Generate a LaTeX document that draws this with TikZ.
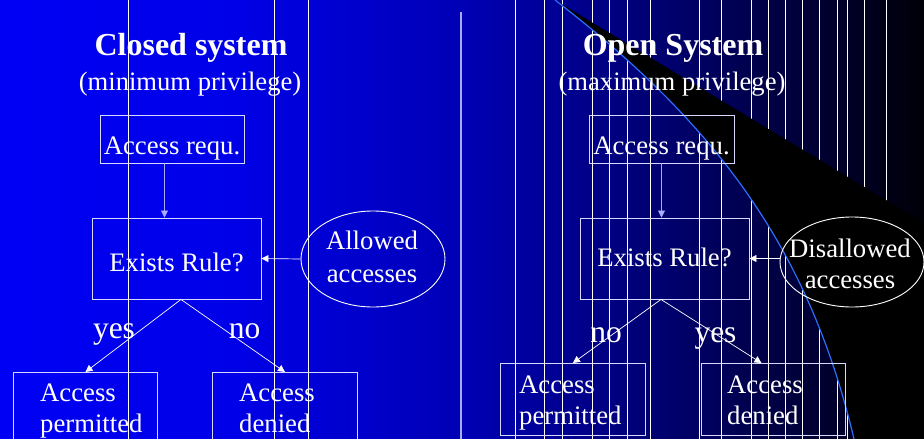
\documentclass[tikz,border=0pt]{standalone}
\usepackage{fontspec}
\setmainfont{Liberation Serif}
\usetikzlibrary{positioning}
\usetikzlibrary{shapes.geometric}
\usetikzlibrary{arrows.meta}
\definecolor{boxline}{RGB}{215,215,255}
\definecolor{curveblue}{RGB}{45,110,250}
\definecolor{divider}{RGB}{170,170,230}
\definecolor{reqarrow}{RGB}{170,170,255}
\pgfdeclarehorizontalshading{slidebg}{100bp}{rgb(0bp)=(0,0,0.96); rgb(25bp)=(0,0,0.96); rgb(37.5bp)=(0,0,0.91); rgb(50bp)=(0,0,0.71); rgb(63bp)=(0,0,0.38); rgb(75bp)=(0,0,0.03); rgb(100bp)=(0,0,0.03)}

\begin{document}
\begin{tikzpicture}[x=1pt,y=-1pt,
    title/.style={text=white,inner sep=0pt,anchor=base,font=\fontsize{32}{38}\selectfont\bfseries},
    subtitle/.style={text=white,inner sep=0pt,anchor=base,font=\fontsize{26.6}{31}\selectfont},
    body/.style={text=white,inner sep=0pt,font=\fontsize{26.7}{31}\selectfont},
    box/.style={body,draw=boxline,line width=0.9pt},
    cloud/.style={ellipse,draw=white,line width=0.9pt,inner sep=0pt,minimum width=144pt},
    answer/.style={text=white,inner sep=0pt,anchor=base,font=\fontsize{31.5}{36}\selectfont},
    arr/.style={draw=white,line width=0.7pt,-{Triangle[width=7pt,length=7pt]}},
    vline/.style={white,line width=1pt}]
  \useasboundingbox (0,0) rectangle (924,439);
  \clip (0,0) rectangle (924,439);

  % slide background
  \shade[shading=slidebg] (0,0) rectangle (924,439);
  \draw[divider,line width=2pt] (461,12) -- (461,439);
  \foreach \x in {128,274,308,515,544,562,592,609,627,650,699,721,751,768,785,802,819,837,847,864,886}
    \draw[vline] (\x,0) -- (\x,439);
  \fill[black] (555,0) -- (924,223) -- (924,439) -- (854,439)
    .. controls (808,245) and (713,122) .. (555,0) -- cycle;
  \draw[curveblue,line width=1.2pt] (555,0) .. controls (713,122) and (808,245) .. (854,439);

  % closed system
  \node[title] (closedT) at (191,55) {Closed system};
  \node[subtitle] (closedS) at (190,90) {(minimum privilege)};
  \node[box,minimum width=144pt,text height=39pt,text depth=9pt] (reqL) at (172,139) {Access requ.};
  \node[box,minimum width=169pt,text height=53pt,text depth=28pt] (ruleL) at (176.5,258.5) {Exists Rule?};
  \node[cloud,minimum height=96pt] (allowL) at (373,259) {};
  \node[body,align=center,anchor=base] (allowLt) at (372,282) {Allowed\\[2pt]accesses};
  \node[box,minimum width=144pt,minimum height=80pt,anchor=north west] (permL) at (13,372) {};
  \node[body,align=left,anchor=base west] (permLt) at (40,432) {Access\\permitted};
  \node[box,minimum width=145pt,minimum height=80pt,anchor=north west] (denyL) at (212,372) {};
  \node[body,align=left,anchor=base west] (denyLt) at (239,432) {Access\\denied};
  \node[answer] (yesL) at (114,338) {yes};
  \node[answer] (noL) at (244.5,338) {no};

  \coordinate (reqLout) at ([xshift=-7.5pt]reqL.south);
  \coordinate (ruleLout) at ([xshift=4.5pt]ruleL.south);
  \draw[arr,draw=reqarrow] (reqLout) -- (reqLout |- ruleL.north);
  \draw[arr] (allowL.west) -- (ruleL.east);
  \draw[arr] (ruleLout) -- (permL.north);
  \draw[arr] (ruleLout) -- (denyL.north);

  % open system
  \node[title] (openT) at (673,55) {Open System};
  \node[subtitle] (openS) at (672,90) {(maximum privilege)};
  \node[box,minimum width=145pt,text height=39pt,text depth=9pt] (reqR) at (661.5,139) {Access requ.};
  \node[box,minimum width=169pt,text height=48pt,text depth=33pt] (ruleR) at (664.5,258.5) {Exists Rule?};
  \node[cloud,minimum height=90pt] (disR) at (852,262) {};
  \node[body,align=center,anchor=base] (disRt) at (850,288) {Disallowed\\accesses};
  \node[box,minimum width=145pt,minimum height=72pt,anchor=north west] (permR) at (500,363) {};
  \node[body,align=left,anchor=base west] (permRt) at (519,424) {Access\\permitted};
  \node[box,minimum width=144pt,minimum height=72pt,anchor=north west] (denyR) at (701,363) {};
  \node[body,align=left,anchor=base west] (denyRt) at (727,424) {Access\\denied};
  \node[answer] (noR) at (606,342) {no};
  \node[answer] (yesR) at (715.5,342) {yes};

  \coordinate (ruleRout) at ([xshift=-3.5pt]ruleR.south);
  \draw[arr,draw=reqarrow] (reqR.south) -- (reqR.south |- ruleR.north);
  \draw[arr] (disR.west |- ruleR.east) -- (ruleR.east);
  \draw[arr] (ruleRout) -- (permR.north);
  \draw[arr] (ruleRout) -- ([xshift=-12pt]denyR.north);
\end{tikzpicture}
\end{document}
